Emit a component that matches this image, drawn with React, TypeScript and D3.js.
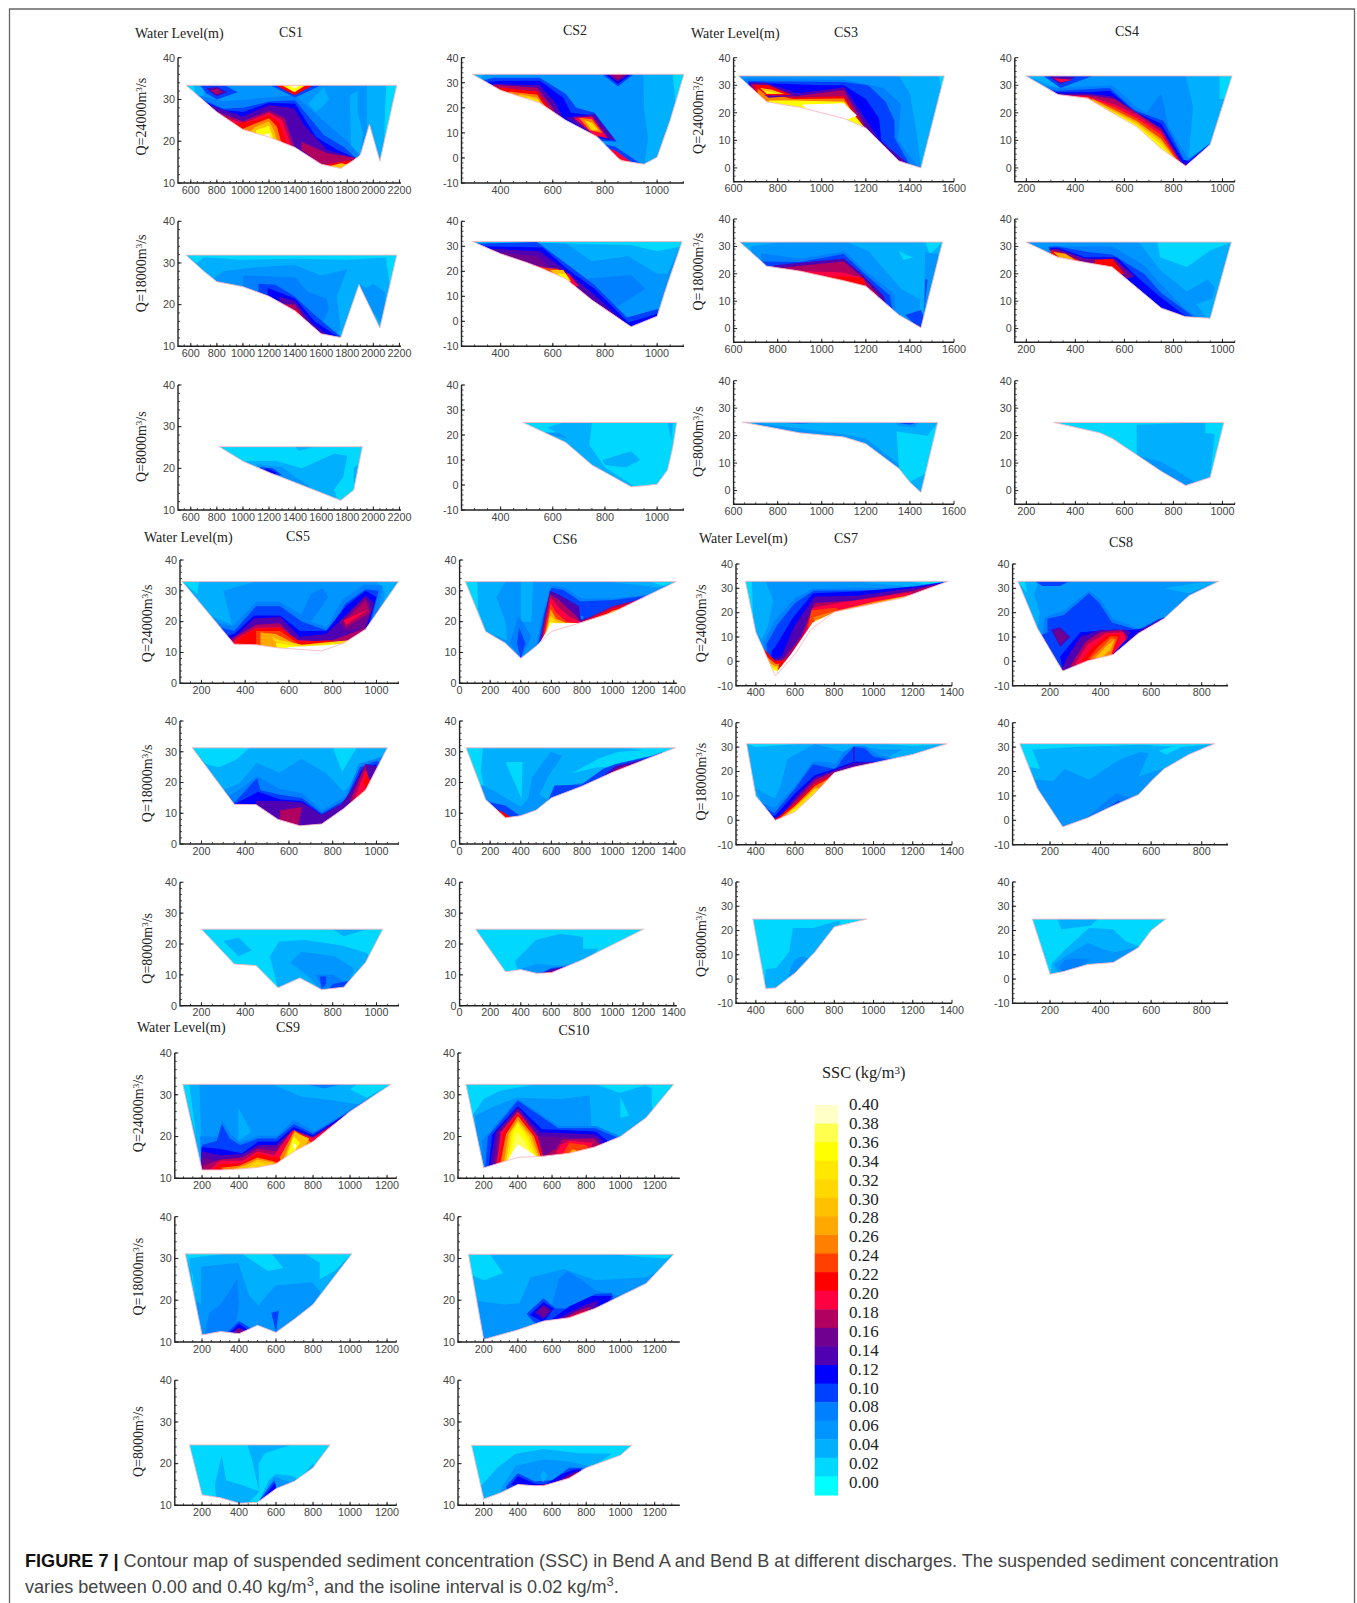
import React from "react";
import * as d3 from "d3";

const sscLevels = [0,0.02,0.04,0.06,0.08,0.10,0.12,0.14,0.16,0.18,0.20,0.22,0.24,0.26,0.28,0.30,0.32,0.34,0.36,0.38,0.40,0.42];
const sscColors = ["#00FFFF","#00D8FF","#00B0FF","#0095FF","#0080FF","#0040FF","#0000FF","#5000B0","#700090","#B00060","#FF0040","#FF0000","#FF4000","#FF8000","#FFA800","#FFC000","#FFD800","#FFE800","#FFFF00","#FFFF50","#FFFFC8","#FFFFFF"];
const legendLabels = ["0.40","0.38","0.36","0.34","0.32","0.30","0.28","0.26","0.24","0.22","0.20","0.18","0.16","0.14","0.12","0.10","0.08","0.06","0.04","0.02","0.00"];

type Band = [number, number[]];

// ---- CS1
const cs1q24Bed = [563,33.4,800,27,1000,22.8,1200,21,1400,18.5,1600,14.5,1750,13.5,1850,15.5,1900,16.7,1970,24,2050,15.2,2180,33.4];
const cs1q24Bands: Band[] = [
[0.04,[563,33.4,700,33.4,700,31,640,30]],[0.04,[1950,33.4,2180,33.4,2180,14,1950,14]],[0.04,[1820,31,1880,32,1880,27,1920,22,1900,16,1830,17]],[0.04,[1500,29,1620,33,1660,30,1600,28,1560,27]],
[0.02,[563,33.4,620,33.4,640,31]],[0.02,[2100,33.4,2180,33.4,2080,17,2090,28]],
[0.08,[660,31,850,29.5,1200,30.5,1400,31,1650,24,1800,20,1900,16.5,1900,10,500,10]],
[0.10,[690,30,850,27.8,1000,28,1200,29.5,1400,29.8,1620,21.5,1780,18.5,1870,15.8,1870,10,500,10]],
[0.12,[715,29.4,850,27.5,1000,27,1200,29.2,1400,29,1560,21,1720,18,1870,15.8,1870,10,600,10]],
[0.14,[740,28.7,1000,25.9,1200,28.7,1392,27.9,1477,23.5,1647,17.9,1874,15.9,1870,10,700,10]],
[0.16,[824,26.7,994,24.7,1200,27.5,1306,26,1392,18.7,1392,10,800,10]],
[0.18,[1448,19.9,1647,17.1,1874,15.9,1760,14.5,1604,14.3,1448,18]],
[0.18,[800,27,1000,24.8,1200,27.2,1320,25.5,1400,18,800,18]],
[0.20,[850,25.8,1000,24.3,1200,26.8,1300,25,1380,18,850,18]],
[0.22,[950,24.2,1100,25,1200,26.3,1280,24.5,1350,18,950,18]],
[0.26,[1000,23,1100,24.3,1200,25.5,1260,23.5,1310,18,1000,18]],
[0.30,[1060,22.5,1100,23.5,1200,24.8,1240,22.5,1280,18,1060,18]],
[0.36,[1100,22.6,1200,23.7,1230,21,1250,18,1100,18]],
[0.40,[1150,21.5,1200,22,1230,20,1180,18]],
[0.22,[1640,14.4,1750,15,1830,15.5,1850,15,1700,12]],[0.30,[1660,14,1750,14.7,1800,14.5,1750,12]],
[0.10,[670,33.4,860,33.4,960,31.7,800,30,720,31.5]],[0.14,[720,32.6,800,33,880,31.8,800,30.8]],[0.18,[750,32.2,800,32.6,840,31.8,800,31.2]],
[0.06,[1000,33.4,1300,33.4,1240,31.7,1000,31.7]],
[0.10,[1210,33.4,1600,33.4,1400,30.5]],[0.22,[1250,33.4,1540,33.4,1395,31]],[0.36,[1300,33.4,1480,33.4,1395,31.7]],[0.40,[1350,33.4,1440,33.4,1395,32.6]],
];
const cs1q18Bed = [563,31.9,700,28,800,25.5,1000,24.3,1200,22,1400,18.5,1600,13,1750,12.1,1890,24.8,2050,14.4,2180,31.9];
const cs1q18Bands: Band[] = [
[0.02,[563,31.9,2180,31.9,2180,28,2100,31.3,1800,30.8,1400,31,1000,30.8,700,31.4,650,30]],
[0.02,[2100,31.9,2180,31.9,2130,24,2100,30]],
[0.06,[760,26,850,28,1100,29,1400,29.5,1600,27,1800,28.5,1720,22,1750,14,1600,10,700,10]],
[0.06,[1890,24.8,1950,24,2000,25,2090,23,2080,15,2000,18]],
[0.08,[1000,27,1400,26.5,1500,23,1640,21.5,1660,19,1600,15,1700,12,1000,10]],
[0.10,[1120,25,1250,24.8,1392,22.1,1562,17.2,1746,12.4,1600,10,1120,20]],
[0.12,[1190,24,1400,21.5,1550,16,1740,12,1500,10,1190,20]],
[0.14,[1280,21.9,1400,20.8,1530,15.5,1680,12,1500,10,1280,18]],
[0.18,[1320,20.2,1400,20,1510,15,1600,12,1300,12]],
[0.22,[1380,19,1420,18.5,1500,14.5,1600,12.8,1350,12]],
];
const cs1q8Bed = [818,25.2,1000,21.7,1200,19,1400,16.6,1750,12.3,1850,14.8,1916,25.2];
const cs1q8Bands: Band[] = [
[0.04,[1000,21.7,1250,21.8,1450,20,1700,23.5,1800,23,1770,18,1700,15,1750,10,1000,10]],
[0.06,[1100,21,1300,20.3,1400,18,1500,16,1600,12,1200,12]],
[0.10,[1130,20.3,1230,20,1300,18.4,1170,18]],[0.12,[1180,20,1260,19,1240,18.5,1170,19.7]],
[0.04,[1400,25.2,1550,25.2,1430,24.2]],[0.04,[1850,20,1880,21,1870,15,1850,17]],
];
// ---- CS2
const cs2q24Bed = [292,33.4,400,27,550,22,650,15,770,8.5,860,-1,950,-2.5,1000,0.3,1050,15,1103,33.4];
const cs2q24Bands: Band[] = [
[0.04,[947,33.4,1103,33.4,1050,0,950,-3,965,8,950,20]],[0.04,[292,33.4,340,33.4,320,31.5]],[0.02,[1060,33.4,1103,33.4,1075,18,1065,28]],
[0.10,[335,31,373,32,550,32,650,25.5,690,20,760,18,845,6.5,770,7,700,10,300,20]],
[0.12,[350,30.3,400,30.8,550,30.8,640,24,670,18,750,17,820,7,700,10,350,20]],
[0.14,[370,29.6,550,29,610,22,640,15.5,500,15]],
[0.18,[370,29.3,540,28,600,20,620,15,500,15]],[0.22,[390,28.2,540,26.5,590,19,600,15,500,15]],[0.26,[430,26.5,540,25.2,580,19,590,15,500,15]],[0.30,[470,25.5,540,24,570,19,500,15]],[0.34,[500,24.5,545,23,565,20,500,18]],
[0.14,[650,16,760,17.5,840,7,770,8.5]],[0.20,[680,16,750,16.5,810,8,760,9]],[0.26,[700,16,750,15.5,790,10,740,11]],[0.32,[720,15,752,14,775,11,750,11]],
[0.10,[780,6,840,4.5,940,-2.5,860,-2]],[0.20,[800,4,840,3,900,-1.5,860,-2]],[0.30,[830,1,850,0,880,-1.5,860,-2]],
[0.10,[790,33.4,910,33.4,850,28.5]],[0.12,[800,33.4,900,33.4,850,29.5]],[0.16,[810,33.4,890,33.4,850,30.5]],[0.18,[830,33.4,870,33.4,850,31.5]],
];
const cs2q18Bed = [292,31.9,400,27,500,23.5,550,21.5,650,17,750,8.5,900,-2.2,1000,2,1040,15,1096,31.9];
const cs2q18Bands: Band[] = [
[0.04,[292,31.9,1096,31.9,1040,19,1000,19,890,26,750,24,640,31.9]],
[0.02,[292,31.9,1096,31.9,1096,30,1000,28,900,30.5,500,31.5,292,31.5]],
[0.08,[730,17,900,18.5,955,13,850,6,800,5,700,12]],
[0.10,[300,31,540,31.7,665,22,760,14.5,885,1.5,1005,5,1005,-10,300,-10]],
[0.12,[340,30,560,29.5,660,20.5,760,13,890,-0.5,1000,3,1000,-10,340,-10]],
[0.14,[370,29,550,28,640,21,760,10.5,880,-1,880,-10,370,-10]],
[0.16,[400,27.5,540,26,590,21.5,650,18,760,8,700,5,400,20]],
[0.20,[520,22.7,590,21,660,19,700,14,560,14]],[0.24,[550,21.5,620,21,670,17,590,16]],[0.30,[590,20.5,640,20.5,670,16,630,16]],[0.36,[620,19,650,19,665,16,640,16]],
];
const cs2q8Bed = [486,25,650,17,750,8,900,-0.7,950,-0.3,1000,0.3,1040,6,1060,15,1075,25];
const cs2q8Bands: Band[] = [
[0.02,[750,25,1075,25,1050,-1,920,-1,800,7,740,16]],
[0.04,[790,10,900,13.5,935,10,880,7,800,8]],
[0.02,[486,25,640,25,580,23,630,20,560,19]],
[0.06,[560,21,620,21,660,18.5,590,20]],[0.04,[1040,25,1060,25,1055,18]],
];
// ---- CS3
const cs3q24Bed = [622,33.4,750,24,900,22,1100,18,1200,14.5,1350,2.5,1450,0,1556,33.4];
const cs3q24Bands: Band[] = [
[0.04,[1350,33.4,1556,33.4,1450,0,1430,13,1400,27]],[0.02,[1530,33.4,1556,33.4,1545,28]],
[0.08,[650,32.5,1100,32,1280,29,1360,23,1345,10,1440,0,1000,0,650,20]],
[0.10,[665,31.5,1100,31.2,1210,30,1290,24,1330,17,1330,11,1400,1,665,1]],
[0.12,[670,31,1000,30,1100,30,1200,25,1260,18,1270,10,1360,2,1000,0,670,20]],
[0.14,[675,31,743,31,890,27,1103,29.3,1179,20,1263,10,1390,1.7,1200,0,700,20]],
[0.18,[680,30.5,750,30.2,880,26,1100,28.3,1160,20,1250,8,1340,2,1200,5,700,20]],
[0.22,[700,30,760,29,850,25.5,1100,26,1150,20,1235,9,1300,5,1100,5,700,20]],
[0.26,[710,29,760,27,870,25,1100,25.2,1150,19,1215,10,1100,5,700,20]],
[0.36,[760,24.5,870,24.5,1100,24,1180,16,1210,13,1100,10,760,20]],
[0.14,[740,26.5,900,26.3,760,25.5]],
[0.22,[690,30,760,30,860,26.5,750,26.3]],[0.30,[720,29,770,28.5,830,26.8,750,26.8]],[0.36,[740,28,780,27.5,800,27,750,27]],
[0.42,[910,23,1100,23.5,1160,19,1100,17,950,20]],
];
const cs3q18Bed = [628,31.6,750,22.8,900,21,1100,17.5,1200,15.5,1350,5,1450,0.3,1548,31.6];
const cs3q18Bands: Band[] = [
[0.06,[675,30,800,31.3,1110,31.6,1212,28.3,1363,14.3,1447,10.7,1440,2,1347,0,750,10]],
[0.02,[1470,31.6,1548,31.6,1490,27]],[0.02,[1350,28.5,1380,27,1415,26,1370,25]],
[0.06,[1470,28,1530,27,1480,5,1460,5]],[0.10,[1470,18,1480,18,1465,6]],
[0.08,[725,27.5,900,25.5,1103,28.2,1200,21,1330,12.5,1335,5,1000,5,725,15]],
[0.10,[730,24.5,900,24.3,1100,27.2,1195,20,1310,12,1325,5,1000,5,760,15]],[0.10,[1380,5,1450,6.8,1470,3,1450,-1]],
[0.14,[780,23,900,24,1100,25.5,1180,20,1280,12,1300,7,900,7]],
[0.18,[800,22,920,23,1100,24.5,1180,19,1260,12,900,12]],
[0.20,[900,21,1100,20.5,1180,18.5,1230,12,1000,12]],[0.22,[1000,19,1100,19,1190,18.5,1200,15,1100,15]],
];
const cs3q8Bed = [640,24.9,900,21,1100,19.5,1200,17,1350,8,1400,3,1450,-0.7,1526,24.8];
const cs3q8Bands: Band[] = [
[0.06,[700,24.7,1100,20.5,1200,19,1360,9,1400,3,1300,0,800,10]],
[0.02,[1340,21.5,1480,20,1526,24.8,1450,-1,1440,5,1400,3,1350,8]],[0.04,[1400,3,1490,7,1450,-1]],
[0.06,[1330,24.8,1440,24.8,1420,23,1350,23.5]],[0.10,[1340,24.8,1430,24.8,1400,24]],[0.10,[780,24.8,1000,24.8,900,24.4]],
];
// ---- CS4
const cs4q24Bed = [198,33.4,330,26.6,450,25.3,550,20,650,15,750,7,850,0.7,950,8.5,1039,33.4];
const cs4q24Bands: Band[] = [
[0.04,[850,33.4,1039,33.4,960,9,860,2,880,22]],[0.02,[988,33.4,1039,33.4,1013,25,988,25]],[0.02,[198,33.4,240,33.4,280,31]],
[0.04,[198,33.4,320,33.4,330,29]],
[0.08,[250,30,330,29,550,30,650,22,690,20,750,27,780,15,860,3.5,960,9,850,-3,250,10]],
[0.10,[260,29,330,28,540,29,640,21,760,17,850,2,950,9,850,-2,260,20]],
[0.12,[280,28,330,27.5,450,27.5,540,28,640,20.5,750,16,838,3,865,2.5,940,8,850,-2,280,20]],
[0.14,[290,27,450,27,550,26,650,20,750,14.5,835,2,870,1,850,-2,600,10]],
[0.18,[310,26.5,450,26.5,560,25,650,20,750,14,830,2,700,2,400,20]],
[0.20,[300,26.3,450,26,560,23,650,19,750,13,828,2,700,2,400,20]],
[0.24,[320,26,450,25.7,560,22,650,18,750,12,825,2,700,2,400,20]],
[0.28,[470,25,560,21,650,17,750,10.5,820,2,700,2,400,20]],
[0.32,[500,23,650,16.3,750,9.5,810,3,700,5,500,15]],
[0.36,[560,20,650,15.5,750,8.5,800,3,700,5]],
[0.10,[270,33.4,470,33.4,340,29]],[0.14,[290,33.3,400,33,340,30.5]],[0.20,[310,32.5,390,32,340,31]],
];
const cs4q18Bed = [198,31.6,330,26,450,24,550,22.5,650,15,750,7.5,850,4.3,950,3.8,1036,31.6];
const cs4q18Bands: Band[] = [
[0.02,[735,31.6,1036,31.6,950,28.5,855,22.5,745,26]],
[0.06,[198,31.6,660,31.3,750,21,855,13.5,940,18,968,15,960,11,892,9,945,3,400,3]],
[0.08,[290,30,550,30,680,23,750,16,850,7,900,4,500,4,300,20]],
[0.10,[290,29.8,330,30,450,28,550,27,680,20,750,13,880,4.5,650,5,450,20]],
[0.12,[290,29.5,330,29.5,440,26,570,26,650,19,740,12,850,4.5,650,5,450,20]],
[0.16,[290,29,330,29,440,25.5,560,25.5,640,19,600,18,450,20]],
[0.22,[300,28.7,340,27.8,420,24.8,300,24]],[0.28,[310,28,360,27.3,400,25,340,25.5]],[0.22,[480,25,550,25.5,600,20,480,20]],
];
const cs4q8Bed = [312,24.8,500,21,550,19,650,13,750,7,850,1.8,950,4.8,1006,24.8];
const cs4q8Bands: Band[] = [
[0.04,[650,24,900,24.8,1000,24.8,950,4,850,1,650,12]],
[0.02,[930,24.8,1006,24.8,985,15,950,5,968,20.6,930,21]],
[0.06,[640,13,750,10.5,900,2.5,850,0,700,5]],
];
// ---- CS5
const cs5q24Bed = [112,33,350,12.7,450,12.5,550,11.5,650,11,750,10.5,850,13,950,17.5,1101,33];
const cs5q24Bands: Band[] = [
[0.04,[112,33,450,33,300,30,340,19,200,23]],[0.02,[112,33,190,33,180,29]],[0.04,[1000,33,1101,33,1020,20,1040,30]],
[0.08,[230,20,344,18.6,454,26.5,555,26.5,657,22.3,700,29,755,30.8,780,28,700,20,775,18.3,843,27,944,32,1029,31.7,1000,20,950,14,600,8,300,8]],
[0.10,[240,19,350,17,450,25,560,25,660,20,780,17,860,26,950,30.5,1010,30,975,20,950,14,600,8,300,8]],
[0.12,[290,15,350,16,440,22,560,22,650,17,770,17,860,25,950,30,1000,28,960,18,950,14,600,8,300,8]],
[0.14,[310,14,360,15.5,440,21,560,21.5,650,15,770,16,860,22,950,28.5,990,26,950,18,850,13,600,8,300,8]],
[0.16,[830,20,950,28,980,24,950,18,860,17]],[0.18,[850,20,950,27,970,23,860,18]],[0.20,[850,20.5,965,24,860,19]],
[0.18,[330,12.7,350,15,450,19,560,19.5,640,13,800,14,950,18,950,14,600,8,300,8]],
[0.20,[340,12.7,360,14.5,450,18,560,18.2,640,14,800,13.5,880,14,800,10,400,8]],
[0.22,[350,12.7,360,14,440,17.5,560,18,650,13.5,800,14,700,10]],
[0.24,[450,17,560,17,640,13,600,10,450,10]],[0.28,[470,16.5,540,16,650,12,600,10,470,10]],
[0.32,[520,15,560,14,660,12.5,800,13.5,880,14,850,12,600,8]],[0.36,[540,13,600,12.5,680,11.5,810,13,800,12,550,10]],
[0.42,[600,11.8,800,12.5,850,13,750,10,550,10]],
];
const cs5q18Bed = [158,31.3,350,12.9,450,12.8,550,8,650,5.9,750,6.5,850,11.5,950,17.5,1050,31.3];
const cs5q18Bands: Band[] = [
[0.02,[158,31.3,420,31.3,360,27.5,280,25,220,26]],[0.02,[800,31.3,910,31.3,843,23.5]],
[0.06,[280,17,372,19.7,454,26.4,555,23.2,657,27.7,770,23,850,17,950,25,1040,29,1000,15,500,5,300,12]],
[0.08,[310,15,360,17,454,22,555,18,660,16.5,750,11,860,15.5,920,26,1030,28.5,1000,15,800,5,350,5]],
[0.10,[345,13,370,15,454,21.5,470,17.5,560,16,660,15,750,10,860,14.5,925,25,1000,27,1020,26,960,15,800,5,350,5]],
[0.12,[350,12.9,460,17,560,14.5,660,14,750,9.5,860,13.5,930,24,1000,26,960,15,800,5,450,5]],
[0.14,[450,14,560,14,660,13.5,750,9.5,840,13,880,17,950,26,1010,25,950,15,800,5,450,5]],
[0.18,[560,11,660,12,640,5,560,5]],[0.18,[880,14,950,26,960,18,900,10]],[0.20,[900,15,950,24,980,19,950,15]],[0.22,[940,20,955,24,975,18,955,17]],
[0.24,[860,12,950,18,960,16,850,10]],[0.26,[860,11.5,955,17.5,950,16,860,10]],
];
const cs5q8Bed = [200,24.8,350,13.5,450,13,550,5.8,650,9,750,5.2,850,6,950,14,1029,24.8];
const cs5q8Bands: Band[] = [
[0.04,[300,21,370,22,430,18,370,16]],
[0.04,[513,16,555,20.8,673,21.3,843,19.5,960,17,970,13,900,5,552,5]],
[0.06,[606,14,657,17.5,809,16,900,12,860,6,750,5,680,10]],
[0.08,[720,10,800,10,870,7,760,5]],[0.10,[740,9.5,770,9.5,770,7,750,5.5]],[0.10,[800,7,870,8,860,5.5,780,5]],
[0.04,[800,24.8,960,24.8,850,22.5]],
];
// ---- CS6
const cs6q24Bed = [37,33,170,16.8,300,13,400,8.1,500,12,600,16.8,800,19.8,1000,23,1417,33];
const cs6q24Bands: Band[] = [
[0.04,[37,33,300,33,240,28,300,20,310,14,170,16.8]],[0.02,[37,33,116,33,120,24,170,17]],
[0.04,[400,33,480,33,470,20,400,20]],[0.04,[950,33,1417,33,1300,31,1150,32]],[0.02,[1250,33,1417,33,1330,31.5]],
[0.08,[385,22,470,15,400,8,330,13]],[0.10,[390,18,430,13,400,8,375,13]],
[0.08,[500,12,536,21,597,31.8,690,31,795,27.5,1017,27.5,1289,29.2,1417,33,1200,20,600,10]],
[0.10,[510,12,550,22,600,31,680,30.3,790,26.5,1000,27,1280,28.7,1417,33,1200,20,600,10]],
[0.06,[790,22,810,21.5,800,20.5]],
[0.14,[525,13,590,30,660,28.5,780,25,790,20.5,1000,23.5,1280,28,1380,31.5,1000,15,600,10]],
[0.18,[530,14,590,29,650,27,760,22,790,20,600,10]],
[0.20,[540,14,595,28,640,25,720,21.5,790,20,700,12]],
[0.18,[800,20.2,1000,25,1200,27.5,1350,31,1200,20,800,15]],[0.22,[800,19.8,1000,24.2,1200,27,1320,30.2,1200,20,800,15]],[0.32,[880,20,1000,23.5,1200,26,1280,28.3,1000,18]],[0.38,[950,20.5,1000,22,1150,24.5,1000,19]],
[0.24,[550,15,595,26,630,23,700,20,790,19.5,700,14]],[0.28,[560,16,595,24,630,21,700,19.5,790,19.5,600,15]],[0.32,[570,17,590,22,640,19.8,750,19.5,600,15]],[0.38,[560,15,590,20,620,19.5,600,15]],
[0.42,[510,12,600,19.5,800,19.6,1000,20.5,1100,23,1000,15,600,12]],
];
const cs6q18Bed = [42,31.3,170,14.5,300,8.5,400,9.2,500,11,600,15,800,18.8,1000,23.3,1200,27.2,1412,31.3];
const cs6q18Bands: Band[] = [
[0.02,[42,31.3,153,31.3,140,24,170,15,110,20]],[0.02,[300,26.7,412,26.7,405,14.7]],
[0.06,[474,21.7,597,30,672,28.7,580,22,523,16,600,14,800,19,1000,24,1100,26,1000,10,300,5,140,14,100,20,200,18,400,12,450,15]],
[0.02,[733,23,918,28,1042,30,1412,31.3,1200,26,1000,25,900,25]],[0.02,[1100,31.3,1412,31.3,1280,30]],
[0.08,[150,15,300,12,390,9,300,5,150,10]],[0.10,[200,13.5,300,12.5,400,9,300,5,200,10]],[0.18,[240,11.5,290,10,310,9,270,8]],[0.22,[260,11,310,9.5,340,8.5,280,8]],
[0.08,[550,11,600,16,700,19,820,20,1000,25,1200,28,1300,29,1000,15,700,10]],
[0.10,[570,13,620,19,795,19.3,940,24.5,1020,26,1260,28.7,1330,30,1000,15,700,10]],
[0.14,[950,22.5,1020,25.3,1200,27.5,1000,15]],[0.18,[1000,23.5,1050,25,1140,26,1000,20]],
];
const cs6q8Bed = [104,24.8,300,11,400,11.7,500,10.5,600,10.7,800,14.8,1203,24.8];
const cs6q8Bands: Band[] = [
[0.04,[363,14.5,499,21.3,659,23.3,807,22.3,807,18.5,906,18.5,800,10,400,8]],
[0.06,[400,12,500,13.5,660,13,760,14,800,14,600,8,400,8]],[0.10,[500,10.5,550,11,600,12.2,740,13,700,8,500,8]],[0.14,[540,10.6,600,11.7,700,12.8,650,8]],[0.20,[550,10.6,600,11,690,12,620,8]],
];
// ---- CS7
const cs7q24Bed = [347,32.9,400,12,500,-6,600,3,680,13,800,20.3,940,22.6,1145,26,1381,32.9];
const cs7q24Bands: Band[] = [
[0.04,[347,32.9,450,32.9,490,25,460,14,430,9,400,12]],[0.02,[347,32.9,380,32.9,385,20,390,14]],[0.04,[900,32.9,1381,32.9,1200,30.5]],[0.02,[1180,32.9,1381,32.9,1280,31.5]],
[0.08,[440,8,500,17,600,26,692,29.8,1145,30.3,1381,32.9,1100,20,700,-10,460,-10]],
[0.10,[455,7,510,15,600,24,695,29,1145,29.3,1370,32.7,1000,20,700,-10,470,-10]],
[0.12,[480,4,500,6,590,18,692,28,919,28.7,1220,30.9,1360,32.5,1000,20,700,-10,480,-10]],
[0.14,[490,1,530,2,600,15,700,26.5,919,27,1220,30.3,1340,32,1000,18,700,-10,500,-10]],
[0.18,[490,0,540,1,630,10,700,24,900,25,1200,29,1320,31.5,1000,18,700,-5,500,-10]],
[0.20,[495,-1,560,1,650,12,690,22,820,24,1000,26,1200,28.5,1000,15,700,-5]],
[0.24,[683,21,806,22,830,21,800,20,700,14,660,11]],
[0.26,[690,18,770,20,800,20.5,730,14]],[0.30,[700,17,770,18,740,13,700,13]],[0.32,[700,15,770,18,740,12,700,12]],[0.36,[700,13,730,16,740,12,700,11]],
[0.26,[820,21,1000,24.5,1200,27.5,1300,30,1100,22,820,15]],[0.34,[880,21.2,1000,23.8,1150,26.5,1000,18]],[0.38,[950,21.5,1100,25,1000,18]],
[0.22,[430,6,500,0,530,0,560,1,500,-10,420,0]],[0.26,[440,3,500,-1,520,-1,500,-10]],[0.32,[455,0,500,-2,515,-2,500,-8]],[0.36,[470,-2,500,-3,510,-3.5,500,-8]],
[0.42,[510,-4,580,3,690,16,800,20.2,700,9,510,-10]],[0.42,[480,-3.5,510,-4,500,-8]],
];
const cs7q18Bed = [353,31.4,400,10,500,0,600,3.5,700,11,800,19.5,900,21.8,1000,23.5,1200,27,1375,31.4];
const cs7q18Bands: Band[] = [
[0.02,[353,31.4,620,31.4,400,30]],[0.02,[1050,31.4,1375,31.4,1200,30.5]],
[0.06,[400,13,470,10,500,9,530,15,560,25,700,31.4,850,28,950,30,1050,29,1150,29,1000,23,800,10,500,-5]],
[0.08,[430,7,495,5,600,14,690,24,760,24,805,23,845,28,900,30.5,956,30.5,1032,26.5,1098,25.5,1000,20,800,10,500,-5]],
[0.10,[450,5,495,3,600,13,690,23,805,21,850,26,900,30,956,29.5,1000,26,1080,25,1000,20,800,10,500,-5]],
[0.12,[480,2,500,2,600,11,700,18.5,800,21,900,24,960,24,1040,24,950,21,800,10,500,-5]],
[0.14,[490,1,530,2,600,9.5,700,17.5,800,20.5,900,23.5,1000,24,900,20,700,5,500,-5]],
[0.14,[897,30,903,30,903,24,897,24]],
[0.18,[495,0,520,1,600,8,700,16.5,800,20,700,5,500,-5]],
[0.22,[500,0.3,600,7,700,15,790,18.5,770,15,700,7,500,-5]],
[0.26,[530,1.5,600,6,700,14,770,17,700,8,530,-1]],[0.32,[550,2,620,7,700,13,740,13,640,4]],[0.36,[560,2.5,640,6.5,710,12,660,6]],
[0.42,[560,2,660,6,720,11.5,700,8,600,0]],
];
const cs7q8Bed = [385,24.7,450,-3.9,500,-3.7,600,2.5,700,11,800,21.5,966,24.7];
const cs7q8Bands: Band[] = [
[0.04,[451,4,504,4.6,570,11,589,21,692,21,806,23.7,830,24,800,15,600,-5,440,-5]],
[0.06,[565,2,598,8,636,9.5,680,8,640,2,590,-1]],
];
// ---- CS8
const cs8q24Bed = [73,32.9,150,13.6,250,-4,350,0.3,450,2.8,550,11.5,650,17.5,750,27,868,32.9];
const cs8q24Bands: Band[] = [
[0.04,[73,32.9,160,32.9,135,28,160,20,150,13]],[0.02,[73,32.9,100,32.9,110,28]],[0.04,[650,30,770,32,868,32.9,750,28]],
[0.10,[140,32.9,275,32.9,240,31,170,31]],
[0.08,[178,18,258,21,354,29,397,25.6,449,17.5,551,13.5,660,18.5,500,5,250,-8,130,10,170,10]],
[0.10,[190,17.5,255,19,354,28,395,24,445,16,550,12.8,640,18,500,0,250,-8,150,10,190,12]],
[0.12,[250,-4,240,2,320,12,450,13,520,12.8,600,14,500,0]],
[0.14,[205,13,240,14,280,10,240,6]],[0.16,[215,12,240,13,270,10,240,7]],
[0.14,[240,-4,270,2,320,10,400,13,500,13,520,12,450,3,350,-5]],
[0.18,[280,-2,340,8,400,12,480,13,510,10,440,3,350,-5]],[0.20,[300,-1,350,7,420,11.5,490,12,500,9,440,2,340,-5]],[0.22,[320,0,370,6,430,11,480,11,440,2]],[0.24,[350,1,390,6,440,10.5,470,10,440,2]],[0.26,[360,1,400,5,440,9.5,460,9,440,2]],[0.30,[380,1.5,420,6,455,9,440,5,400,1]],
[0.14,[500,8,560,13,650,18,670,17,500,0]],[0.20,[520,9,560,11.5,600,14,500,5]],
];
const cs8q18Bed = [80,31.4,150,13,250,-2.7,350,1,450,6,550,10.5,600,16,650,21,750,27,851,31.4];
const cs8q18Bands: Band[] = [
[0.02,[80,31.4,851,31.4,720,30,560,31,300,30,130,29,160,21,110,22]],[0.02,[630,28.5,680,30,720,30,660,27]],
[0.06,[110,17,210,16,258,21,354,16.6,478,25,560,28,590,27.5,551,18,640,21,780,28,650,15,400,-5,200,-5]],
[0.08,[330,0,460,11,530,9,500,5,350,-2]],[0.10,[400,3,470,8,490,7,420,2]],[0.12,[420,3.5,470,7,480,6,430,3]],[0.10,[640,20,670,21,640,17]],
];
const cs8q8Bed = [130,24.7,200,2,250,3,350,6,450,6.8,550,13,600,20,658,24.7];
const cs8q8Bands: Band[] = [
[0.04,[230,24.7,390,24.7,360,22,245,20.5]],[0.04,[207,6.5,258,12,354,21,449,20.5,500,15.5,566,13,500,4,200,0]],
[0.06,[215,6,270,10,350,15,405,12.5,456,11,540,13,470,3,250,0]],[0.08,[235,5,260,8,300,8.5,360,8,300,4,250,3]],
];
// ---- CS9
const cs9q24Bed = [96,32.5,200,12,300,12,400,12.2,500,12.6,600,13.5,700,16.5,800,18.8,1000,26,1222,32.5];
const cs9q24Bands: Band[] = [
[0.04,[96,32.5,186,32.5,195,21,200,12]],[0.02,[96,32.5,130,32.5,170,20]],
[0.04,[580,32.5,1222,32.5,1080,27.5,880,28.8,736,29.6]],[0.08,[760,32.5,960,32.5,860,31.5]],[0.02,[1000,31.3,1090,29.3,1222,32.5,1040,32.5]],[0.04,[396,27,466,21,396,19]],
[0.08,[190,20,296,20,306,24,356,20.4,406,18.7,506,20.2,606,20.2,696,24,806,21.2,1000,26.5,1190,31.5,1000,20,600,5,200,5]],
[0.10,[200,18,280,19,306,23,350,19.5,406,18,506,19.5,600,19.5,696,23,800,20.7,1000,26,1100,29,1000,20,600,5,200,5]],
[0.12,[196,17.5,300,17,416,16,506,18.8,606,18.8,696,22.3,800,20.3,1000,26,1100,29,1000,20,600,5,200,5]],
[0.14,[196,16.5,300,15.5,416,15.8,506,18,600,18,690,21.7,800,20,1000,25.5,1050,27,1000,20,600,5,200,5]],
[0.16,[198,15,250,14.5,300,14,416,15,506,17.5,600,17.5,690,21.3,800,19.9,1000,25.5,1000,20,600,5,200,5]],
[0.18,[205,13,300,14.5,420,15,500,17,600,16.5,680,21,720,20,800,19.8,1000,25.5,1000,20,600,5,205,5]],
[0.20,[240,12,300,14.2,420,14.2,500,16.4,590,15.5,690,21.5,800,19.6,1000,25.2,1000,20,600,5,240,5]],
[0.22,[260,12,300,13.5,420,13.5,500,16,590,15,640,15,640,5,260,5]],
[0.26,[300,12.5,400,13,500,15,590,14,640,13,500,8]],[0.30,[350,12,440,13.2,500,14.5,590,13.7,500,10]],[0.32,[430,12,500,14,570,13,500,10]],
[0.26,[620,15,700,21.5,780,19,800,18,640,12]],[0.30,[640,14.5,700,21,780,19.5,750,17,640,12]],[0.36,[655,15,695,20,730,18.5,700,16.5,660,13]],[0.42,[690,18.5,710,18,700,16.5]],
];
const cs9q18Bed = [110,31.1,200,11.7,300,12.5,400,12,500,14,600,12.3,700,15.5,800,19,1010,31.1];
const cs9q18Bands: Band[] = [
[0.02,[416,31.1,576,31.1,640,27.7,556,27]],[0.02,[110,31.1,330,31.1,200,30.5,130,30,170,18,150,26]],[0.02,[756,31.1,1010,31.1,916,27,836,25,836,29]],
[0.06,[170,20,196,19,196,28,396,29,456,21,506,18.8,596,23.5,796,24.3,840,22,806,19,700,12,200,5]],
[0.08,[240,17,300,19,390,25,400,19,380,13,200,9]],
[0.10,[575,17,615,17.5,600,12.3]],[0.10,[330,12,400,15,480,12.8,380,10]],[0.12,[350,12.3,400,14.3,450,12.8,400,11]],[0.16,[370,12.5,400,13.5,430,12.7,400,11.5]],
];
const cs9q8Bed = [132,24.5,200,12.5,300,11.8,400,10.5,500,10.7,600,14,700,15.8,800,19,892,24.5];
const cs9q8Bands: Band[] = [
[0.04,[270,15,306,22,330,16,420,14.8,510,13.3,440,10,280,10]],[0.04,[446,24.5,680,24.5,540,22.5,505,20,510,13,470,21]],
[0.04,[510,11,560,16,600,17.5,700,17,720,16,800,20,830,18,700,12]],[0.06,[510,11,590,17,640,16,690,15.5,600,13]],
[0.10,[510,11.2,590,16,600,14,530,10.5]],[0.12,[530,11.5,595,15.5,600,14,560,11]],
];
// ---- CS10
const cs10q24Bed = [96,32.5,200,12.5,400,15,550,15.3,700,16,850,17.5,1000,20,1150,24.5,1312,32.5];
const cs10q24Bands: Band[] = [
[0.02,[96,32.5,500,32.5,300,31,200,29,150,26,130,25]],[0.02,[854,32.5,995,30.4,1146,32.3,1183,31.5,1183,27.5,1210,24,1312,32.5]],[0.02,[1000,29.5,1050,25,1000,24.5]],
[0.06,[150,25,250,27,390,29.3,650,29,820,29.8,832,21.5,985,19.5,800,10,200,5,170,14]],
[0.08,[190,19,400,29,640,22.5,860,22.5,1000,20,800,10,200,5]],
[0.10,[225,20,400,28.6,637,22,854,22,985,19.7,800,10,200,5,210,13]],
[0.12,[230,13,250,20.5,400,27.3,540,21.8,854,21.2,925,19,800,10,300,5]],
[0.14,[240,14,270,21,400,27,530,21,850,20.5,900,19,800,10,300,5]],
[0.16,[260,14,285,21,400,26.5,525,20,850,19.5,880,18,800,10,300,5]],
[0.20,[275,13.5,300,21,400,26,515,20,550,15,400,10]],[0.22,[285,13.5,315,21,400,25.5,505,20,545,15,400,10]],[0.26,[300,14,330,20.5,400,25,495,20,535,15,400,10]],[0.30,[320,14,345,20.5,400,24,480,20,525,15,400,10]],[0.34,[330,14,360,21,400,23.5,465,20,515,15,400,10]],[0.36,[340,14,375,21.5,400,23,450,20,500,15,400,10]],[0.38,[350,14,385,20.5,400,21,440,19,490,15,400,10]],
[0.42,[335,14,400,18.2,519,15,400,10]],
[0.18,[560,15.5,620,17,660,19.3,850,19.5,880,18,700,14]],[0.20,[620,16,650,18,700,19,840,18.5,800,15]],[0.24,[660,15.5,700,18.5,800,18,820,17,700,14]],[0.28,[700,16,720,17,780,16,700,14]],
];
const cs10q18Bed = [111,31,200,10.6,400,12.9,550,15,700,15.8,850,18,1000,21,1150,24,1312,31];
const cs10q18Bands: Band[] = [
[0.02,[111,31,236,31,314,26.5,204,24.8,130,26]],[0.02,[973,31,1312,31,1270,30,1100,30.5]],
[0.06,[130,20,323,19,410,19.3,475,25.5,670,27.5,854,24.8,1146,25.5,1290,28,1150,20,600,5,200,5]],
[0.08,[600,19,640,25,690,27,780,24.7,855,22.3,1000,21,860,15,600,10]],
[0.10,[450,16.7,550,20.5,620,18,720,18,850,21.5,950,21.7,960,20,600,10]],
[0.12,[470,16.5,550,19.5,610,18,550,14.7]],[0.14,[500,17,550,19,600,17.5,550,15.5]],[0.16,[520,17.5,550,18.5,580,17.5,550,16]],
[0.12,[600,15.5,700,18.5,830,21,870,21,950,21,920,19,700,10]],[0.14,[640,15.7,720,17.5,800,19,870,20,860,18,700,12]],[0.18,[670,15.7,750,17.5,830,18.5,700,12]],[0.20,[680,15.7,760,17,800,17.5,700,13]],
];
const cs10q8Bed = [129,24.4,200,11.5,300,13,400,15,500,14.7,550,14.7,700,16.5,800,19,1000,22,1066,24.4];
const cs10q8Bands: Band[] = [
[0.04,[170,14,280,19,388,22.4,550,23.5,756,22.5,950,22.4,832,19,800,10,200,5]],
[0.06,[300,14,388,19.5,550,21,700,20.5,810,19.5,750,14,300,10]],
[0.10,[330,14.5,400,17.7,500,15.7,600,16,700,19,780,19,700,15,500,13,340,13.5]],
[0.12,[360,15,400,17,500,15.2,560,15,660,17.5,720,18.5,770,18.7,700,14,500,13]],
[0.04,[530,17,550,18.5,570,17,550,15.5]],
[0.14,[480,15,560,14.7,640,16,700,17.5,770,18.5,700,14]],[0.18,[500,14.7,640,15.5,700,16.8,750,18,700,14]],[0.20,[640,15.5,710,17,740,17.5,700,14]],
];

// ---- tick values and the discharge labels
const cs1Ticks = [600,800,1000,1200,1400,1600,1800,2000,2200];
const cs2Ticks = [400,600,800,1000];
const cs3Ticks = [600,800,1000,1200,1400,1600];
const cs4Ticks = [200,400,600,800,1000];
const cs5Ticks = [200,400,600,800,1000];
const cs6Ticks = [0,200,400,600,800,1000,1200,1400];
const cs7Ticks = [400,600,800,1000,1200,1400];
const cs8Ticks = [200,400,600,800];
const cs9Ticks = [200,400,600,800,1000,1200];
const cs10Ticks = [200,400,600,800,1000,1200];
const discharges = [24000,18000,8000];

const layout = [
 {name:"CS1",tick:cs1Ticks,l:178,r:401,xd:[502,2212],ymin:10,rows:[[57.7,183],[221.3,346.3],[385,510]],tx:291,ty:32.3,wl:[135,33.3],yl:[141,116.7,273.3,446.7],base:[0.06,0.04,0.02],
  d:[[cs1q24Bed,cs1q24Bands],[cs1q18Bed,cs1q18Bands],[cs1q8Bed,cs1q8Bands]]},
 {name:"CS2",tick:cs2Ticks,l:461.5,r:684,xd:[250,1103],ymin:-10,rows:[[57.7,183],[221.3,346.3],[385,510]],tx:575,ty:30.7,base:[0.06,0.06,0.04],
  d:[[cs2q24Bed,cs2q24Bands],[cs2q18Bed,cs2q18Bands],[cs2q8Bed,cs2q8Bands]]},
 {name:"CS3",tick:cs3Ticks,l:733.6,r:954,xd:[600,1600],ymin:-5,rows:[[57.7,181.7],[219,342.3],[380.7,504.3]],tx:846,ty:32.3,wl:[691,33.3],yl:[698,115,271.7,441.7],base:[0.06,0.04,0.04],
  d:[[cs3q24Bed,cs3q24Bands],[cs3q18Bed,cs3q18Bands],[cs3q8Bed,cs3q8Bands]]},
 {name:"CS4",tick:cs4Ticks,l:1014.8,r:1235,xd:[153,1051],ymin:-5,rows:[[57.7,181.7],[219,342.3],[380.7,504.3]],tx:1127,ty:31,base:[0.06,0.04,0.02],
  d:[[cs4q24Bed,cs4q24Bands],[cs4q18Bed,cs4q18Bands],[cs4q8Bed,cs4q8Bands]]},
 {name:"CS5",tick:cs5Ticks,l:180,r:399,xd:[102,1103],ymin:0,rows:[[560,683.3],[721,844],[882.3,1005.7]],tx:298,ty:536.7,wl:[144,537.3],yl:[147,623.3,783.3,948.3],base:[0.06,0.04,0.02],
  d:[[cs5q24Bed,cs5q24Bands],[cs5q18Bed,cs5q18Bands],[cs5q8Bed,cs5q8Bands]]},
 {name:"CS6",tick:cs6Ticks,l:459.6,r:676.8,xd:[0,1420],ymin:0,rows:[[560,683.3],[721,844],[882.3,1005.7]],tx:565,ty:539.3,base:[0.06,0.04,0.02],
  d:[[cs6q24Bed,cs6q24Bands],[cs6q18Bed,cs6q18Bands],[cs6q8Bed,cs6q8Bands]]},
 {name:"CS7",tick:cs7Ticks,l:736,r:952,xd:[299,1400],ymin:-10,rows:[[564,685.7],[722.7,844.7],[882,1003.3]],tx:846,ty:538.3,wl:[699,538.7],yl:[701,623.3,781.7,941.7],base:[0.06,0.04,0.02],
  d:[[cs7q24Bed,cs7q24Bands],[cs7q18Bed,cs7q18Bands],[cs7q8Bed,cs7q8Bands]]},
 {name:"CS8",tick:cs8Ticks,l:1012.6,r:1228,xd:[52,904],ymin:-10,rows:[[564,685.7],[722.7,844.7],[882,1003.3]],tx:1121,ty:542,base:[0.06,0.04,0.02],
  d:[[cs8q24Bed,cs8q24Bands],[cs8q18Bed,cs8q18Bands],[cs8q8Bed,cs8q8Bands]]},
 {name:"CS9",tick:cs9Ticks,l:174.8,r:396.7,xd:[53,1252],ymin:10,rows:[[1053,1178.3],[1216.7,1342],[1380.3,1505.3]],tx:288,ty:1027.3,wl:[137,1027.3],yl:[138,1113.3,1276.7,1441.7],base:[0.06,0.04,0.02],
  d:[[cs9q24Bed,cs9q24Bands],[cs9q18Bed,cs9q18Bands],[cs9q8Bed,cs9q8Bands]]},
 {name:"CS10",tick:cs10Ticks,l:458,r:679.8,xd:[50,1347],ymin:10,rows:[[1053,1178.3],[1216.7,1342],[1380.3,1505.3]],tx:574,ty:1030.7,base:[0.04,0.04,0.02],
  d:[[cs10q24Bed,cs10q24Bands],[cs10q18Bed,cs10q18Bands],[cs10q8Bed,cs10q8Bands]]},
];

const color = d3.scaleOrdinal<number,string>(sscLevels, sscColors);
const pairs = (a:number[]) => d3.range(0,a.length,2).map(i=>[a[i],a[i+1]] as [number,number]);
const serif = "'Liberation Serif','Times New Roman',serif";
const sans = "'Liberation Sans',Arial,sans-serif";

function Panel({c,row}:{c:any;row:number}) {
  const [top,bottom] = c.rows[row];
  const x = d3.scaleLinear().domain(c.xd).range([c.l,c.r]);
  const y = d3.scaleLinear().domain([c.ymin,40]).range([bottom,top]);
  const line = d3.line<[number,number]>().x(d=>x(d[0])).y(d=>y(d[1]));
  const [bed,bands] = c.d[row] as [number[],Band[]];
  const bedPath = line(pairs(bed))+"Z";
  const id = `${c.name}-${row}`;
  const step = c.tick[1]-c.tick[0];
  const minorX = d3.range(Math.ceil(c.xd[0]/(step/4))*(step/4),c.xd[1],step/4);
  const minorY = d3.range(c.ymin,40.01,2);
  const majorY = d3.range(40,c.ymin-0.01,-10);
  return <g>
    <clipPath id={id}><path d={bedPath}/></clipPath>
    <g clipPath={`url(#${id})`} filter="url(#soft)">
      <rect x={c.l} y={top} width={c.r-c.l} height={bottom-top} fill={color(c.base[row])}/>
      {bands.map((b,i)=><path key={i} d={line(pairs(b[1]))+"Z"} fill={color(b[0])}/>)}
    </g>
    <path d={bedPath} fill="none" stroke="#f9b9c4" strokeWidth={0.9}/>
    <g stroke="#222" fill="none">
      <path d={`M${c.l},${top}V${bottom}H${c.r}`} strokeWidth={1.4}/>
      {minorY.map(v=><line key={v} x1={c.l} x2={c.l+2} y1={y(v)} y2={y(v)} strokeWidth={0.8}/>)}
      {majorY.map(v=><line key={v} x1={c.l} x2={c.l+3.5} y1={y(v)} y2={y(v)} strokeWidth={1}/>)}
      {minorX.map(v=><line key={v} x1={x(v)} x2={x(v)} y1={bottom} y2={bottom-2} strokeWidth={0.8}/>)}
      {c.tick.map((v:number)=><line key={v} x1={x(v)} x2={x(v)} y1={bottom} y2={bottom-3.5} strokeWidth={1}/>)}
    </g>
    <g fontFamily={sans} fontSize={10.8} fill="#444">
      {majorY.map(v=><text key={v} x={c.l-3} y={y(v)+3.8} textAnchor="end">{v}</text>)}
      {c.tick.map((v:number)=><text key={v} x={x(v)} y={bottom+10.6} textAnchor="middle">{v}</text>)}
    </g>
  </g>;
}

export default function App() {
  const legendY = d3.scaleBand<number>().domain(d3.range(21)).range([1105,1495]);
  const legendLabelY = d3.scaleLinear().domain([0,20]).range([1105,1483]);
  return <svg width={1357} height={1603} viewBox="0 0 1357 1603" style={{position:"absolute",left:0,top:0,background:"#fff"}}>
    <defs><filter id="soft" x="-5%" y="-5%" width="110%" height="110%"><feGaussianBlur stdDeviation={0.45}/></filter></defs>
    <path d="M9.5,1603V9H1354.5V1603" fill="none" stroke="#666" strokeWidth={1.3}/>
    {layout.map(c=><g key={c.name}>
      {[0,1,2].map(r=><Panel key={r} c={c} row={r}/>)}
      <text x={c.tx} y={c.ty+4.5} textAnchor="middle" fontFamily={serif} fontSize={14} fill="#222">{c.name}</text>
      {c.wl && <text x={c.wl[0]} y={c.wl[1]+4.5} fontFamily={serif} fontSize={14} fill="#222">Water Level(m)</text>}
      {c.yl && discharges.map((q,i)=><text key={q} transform={`translate(${c.yl[0]+4.5},${c.yl[i+1]}) rotate(-90)`} textAnchor="middle" fontFamily={serif} fontSize={14} fill="#222">
        Q={q}m<tspan dy={-4} fontSize={9}>3</tspan><tspan dy={4}>/s</tspan></text>)}
    </g>)}
    <text x={822} y={1078} fontFamily={serif} fontSize={16.4} fill="#222">SSC (kg/m<tspan dy={-4} fontSize={11}>3</tspan><tspan dy={4}>)</tspan></text>
    {legendLabels.map((t,i)=><g key={t}>
      <rect x={814.7} y={legendY(i)} width={23.3} height={legendY.bandwidth()+0.5} fill={color(sscLevels[20-i])}/>
      <text x={849} y={legendLabelY(i)+5} fontFamily={serif} fontSize={17} fill="#222">{t}</text>
    </g>)}
    <text x={25} y={1567} fontFamily={sans} fontSize={18.1} fill="#444"><tspan fontWeight="bold" fill="#111">FIGURE 7 |</tspan> Contour map of suspended sediment concentration (SSC) in Bend A and Bend B at different discharges. The suspended sediment concentration</text>
    <text x={25} y={1593} fontFamily={sans} fontSize={18.1} fill="#444">varies between 0.00 and 0.40 kg/m<tspan dy={-7} fontSize={13}>3</tspan><tspan dy={7}>, and the isoline interval is 0.02 kg/m</tspan><tspan dy={-7} fontSize={13}>3</tspan><tspan dy={7}>.</tspan></text>
  </svg>;
}
